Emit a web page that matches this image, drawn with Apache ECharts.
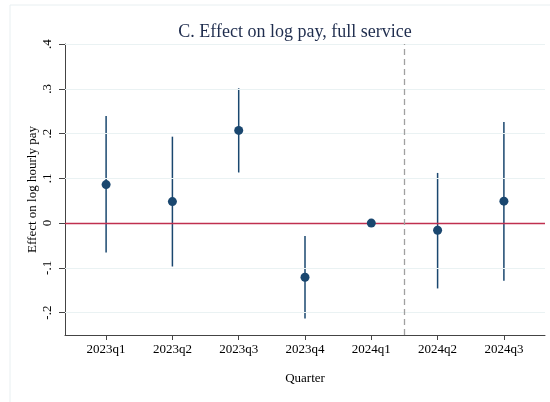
<!DOCTYPE html>
<html>
<head>
<meta charset="utf-8">
<script src="https://cdn.jsdelivr.net/npm/echarts@6/dist/echarts.min.js"></script>
<style>
  html, body { margin: 0; padding: 0; background: #fff; }
  #chart { width: 550px; height: 402px; }
</style>
</head>
<body>
<div id="chart"></div>
<script>
// 数据
var quarters = ['2023q1', '2023q2', '2023q3', '2023q4', '2024q1', '2024q2', '2024q3'];
var estimates = [0.086, 0.048, 0.207, -0.121, 0, -0.016, 0.049];
var ciLow = [-0.066, -0.097, 0.113, -0.213, null, -0.146, -0.129];
var ciHigh = [0.239, 0.193, 0.301, -0.029, null, 0.112, 0.226];
var yTicks = [-0.2, -0.1, 0, 0.1, 0.2, 0.3, 0.4];
var xTicks = [1, 2, 3, 4, 5, 6, 7];
var eventLine = 5.5;

var serif = 'Liberation Serif';
var navy = '#1a476f';

var pointData = estimates.map(function (v, i) { return [i + 1, v]; });
var ciData = [];
for (var i = 0; i < quarters.length; i++) {
  if (ciLow[i] != null) ciData.push([i + 1, ciLow[i], ciHigh[i]]);
}

function fmtY(v) {
  if (Math.abs(v) < 1e-9) return '0';
  return v.toFixed(1).replace('0.', '.');
}

var chart = echarts.init(document.getElementById('chart'));
var option = {
  animation: false,
  backgroundColor: '#fff',
  title: {
    text: 'C. Effect on log pay, full service',
    left: 290,
    top: 18,
    textAlign: 'center',
    textStyle: { fontFamily: serif, fontSize: 18, fontWeight: 'normal', color: '#1f2d4e' }
  },
  graphic: [
    { type: 'line', shape: { x1: 10, y1: 5, x2: 550, y2: 5 }, style: { stroke: '#e8eff1', lineWidth: 1 } },
    { type: 'line', shape: { x1: 10, y1: 5, x2: 10, y2: 402 }, style: { stroke: '#e8eff1', lineWidth: 1 } }
  ],
  grid: { left: 65, right: 5, top: 44, bottom: 67 },
  xAxis: {
    type: 'value',
    min: 0.38,
    max: 7.62,
    name: 'Quarter',
    nameLocation: 'middle',
    nameGap: 37,
    nameTextStyle: { fontFamily: serif, fontSize: 13, color: '#000' },
    axisLine: { show: true, onZero: false, lineStyle: { color: '#444', width: 1 } },
    axisTick: { show: true, customValues: xTicks, length: 5, lineStyle: { color: '#444' } },
    axisLabel: {
      customValues: xTicks,
      margin: 8,
      fontFamily: serif, fontSize: 13, color: '#000',
      formatter: function (v) { return quarters[Math.round(v) - 1] || ''; }
    },
    splitLine: { show: false }
  },
  yAxis: {
    type: 'value',
    min: -0.25,
    max: 0.4,
    name: 'Effect on log hourly pay',
    nameLocation: 'middle',
    nameGap: 26,
    nameMoveOverlap: false,
    nameTextStyle: { fontFamily: serif, fontSize: 13, color: '#000' },
    axisLine: { show: true, onZero: false, lineStyle: { color: '#444', width: 1 } },
    axisTick: { show: true, customValues: yTicks, length: 6, lineStyle: { color: '#444' } },
    axisLabel: {
      customValues: yTicks,
      rotate: 90,
      margin: 11,
      fontFamily: serif, fontSize: 13, color: '#000',
      formatter: fmtY
    },
    splitLine: { show: false }
  },
  series: [
    {
      // 网格线
      type: 'line',
      data: [],
      silent: true,
      markLine: {
        symbol: 'none',
        silent: true,
        label: { show: false },
        lineStyle: { color: '#eaf2f3', type: 'solid', width: 1 },
        data: yTicks.filter(function (t) { return t !== 0; }).map(function (t) { return { yAxis: t }; })
      }
    },
    {
      // 置信区间
      type: 'custom',
      data: ciData,
      z: 3,
      renderItem: function (params, api) {
        var p1 = api.coord([api.value(0), api.value(1)]);
        var p2 = api.coord([api.value(0), api.value(2)]);
        return {
          type: 'line',
          shape: { x1: p1[0], y1: p1[1], x2: p2[0], y2: p2[1] },
          style: { stroke: navy, lineWidth: 1.5 }
        };
      }
    },
    {
      type: 'scatter',
      data: pointData,
      symbol: 'circle',
      symbolSize: 9,
      z: 5,
      itemStyle: { color: navy, opacity: 1 },
      markLine: {
        symbol: 'none',
        silent: true,
        label: { show: false },
        data: [
          { yAxis: 0, lineStyle: { color: '#c0304f', type: 'solid', width: 1.3 } },
          { xAxis: eventLine, lineStyle: { color: '#a0a0a0', type: [6, 4], width: 1.3 } }
        ]
      }
    }
  ]
};
chart.setOption(option);
</script>
</body>
</html>
